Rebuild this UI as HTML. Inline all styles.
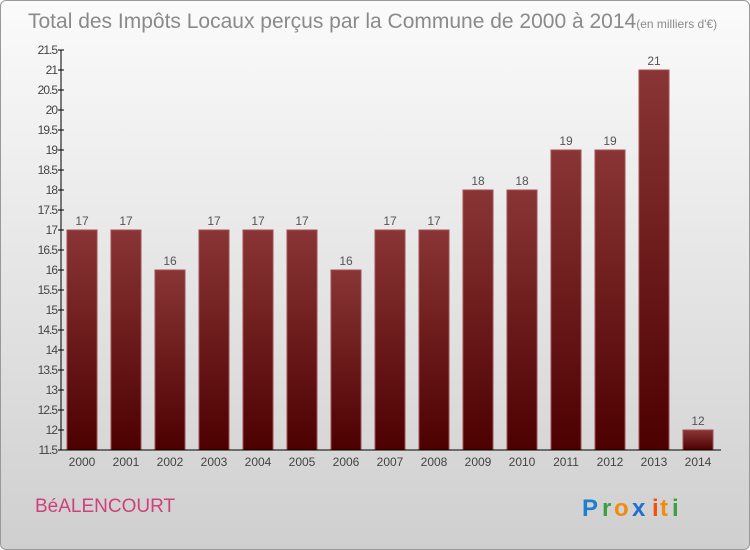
<!DOCTYPE html>
<html><head><meta charset="utf-8"><style>
body{margin:0;width:750px;height:550px;overflow:hidden;font-family:"Liberation Sans",sans-serif}
#bg{position:absolute;left:0;top:0;width:748px;height:548px;border:1px solid #999;border-radius:6px;background:linear-gradient(#fbfbfb,#cfcfcf)}
</style></head><body>
<div id="bg"></div>
<svg id="c" width="750" height="550" style="position:absolute;left:0;top:0">
<defs><linearGradient id="g" x1="0" y1="0" x2="0" y2="1"><stop offset="0" stop-color="#8a3535"/><stop offset="1" stop-color="#4d0000"/></linearGradient></defs>
<text x="28" y="28" font-size="21" fill="#8a8a8a">Total des Impôts Locaux perçus par la Commune de 2000 à 2014<tspan font-size="12">(en milliers d'€)</tspan></text>
<text x="35" y="512" font-size="19" fill="#d0407a">BéALENCOURT</text>
<g font-size="24" font-weight="bold"><text x="582" y="516" fill="#1e7fd0">P</text><text x="602" y="516" fill="#3aa040">r</text><text x="614" y="516" fill="#f08a10">o</text><text x="632" y="516" fill="#1e6fd0">x</text><text x="652" y="516" fill="#f05010">i</text><text x="660" y="516" fill="#f08a10">t</text><text x="672" y="516" fill="#3aa040">i</text></g>
</svg>
<script>
const years=["2000","2001","2002","2003","2004","2005","2006","2007","2008","2009","2010","2011","2012","2013","2014"];
const values=[17,17,16,17,17,17,16,17,17,18,18,19,19,21,12];
const yTicks=[11.5,12,12.5,13,13.5,14,14.5,15,15.5,16,16.5,17,17.5,18,18.5,19,19.5,20,20.5,21,21.5];
const svg=document.getElementById('c'),NS="http://www.w3.org/2000/svg";
const y=v=>450-(v-11.5)*40, x=i=>82+i*44;
function mk(t,a,txt){const e=document.createElementNS(NS,t);for(const k in a)e.setAttribute(k,a[k]);if(txt!==undefined)e.textContent=txt;svg.appendChild(e);return e;}
values.forEach((v,i)=>{
 const r=mk('rect',{x:x(i)-15,y:y(v),width:30,height:450-y(v),fill:'url(#g)',stroke:'#a05050','stroke-width':1});
 
 
 const l=mk('text',{x:x(i),y:y(v)-5,'text-anchor':'middle','font-size':12,fill:'#555'},String(v));
 
 
 const t=mk('text',{x:x(i),y:466,'text-anchor':'middle','font-size':12,fill:'#444'},years[i]);
 
 
});
yTicks.forEach(v=>{
 mk('line',{x1:58,x2:64,y1:y(v),y2:y(v),stroke:'#000'});
 const t=mk('text',{x:57,y:y(v)+4,'text-anchor':'end','font-size':12,fill:'#444','letter-spacing':'-1'},String(v));
 
 
});
const ya=mk('line',{x1:61,x2:61,y1:50,y2:450,stroke:'#000'});


const xa=mk('line',{x1:61,x2:721,y1:450,y2:450,stroke:'#000'});


</script>
</body></html>
